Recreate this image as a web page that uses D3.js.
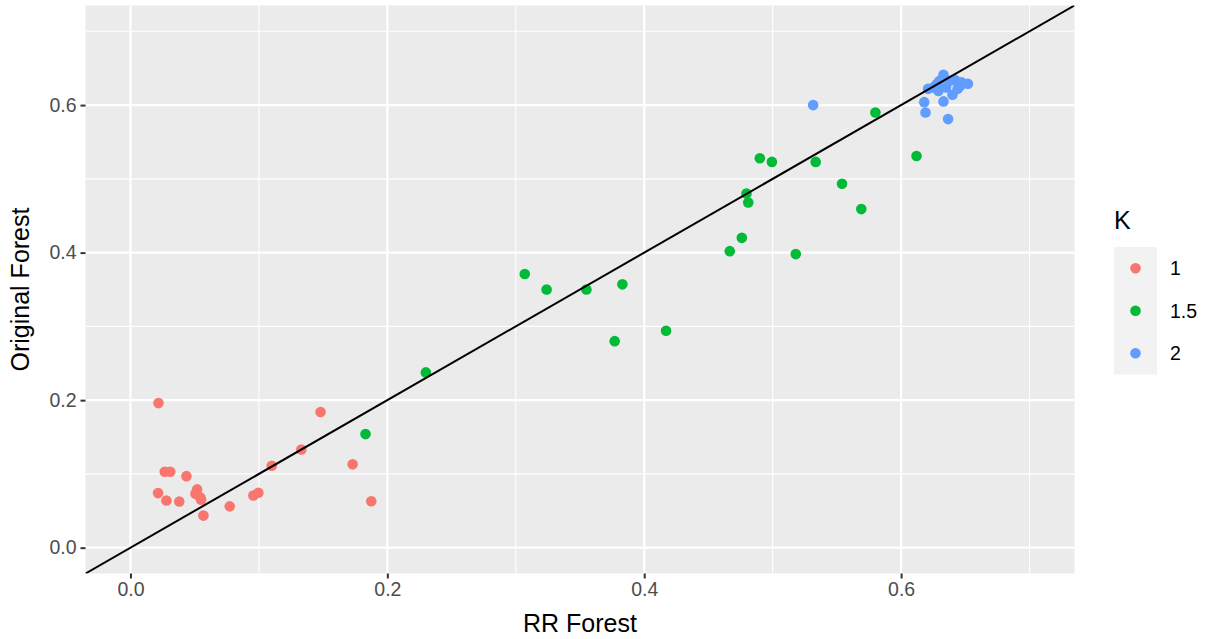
<!DOCTYPE html>
<html><head><meta charset="utf-8">
<script src="https://cdn.jsdelivr.net/npm/d3@7"></script>
<style>body{margin:0;background:#fff}svg{display:block}text{font-family:"Liberation Sans",Arial,Helvetica,sans-serif}</style>
</head><body>
<svg id="chart" width="1211" height="639"></svg>
<script>
// ---- data ----
const kLevels = ["1", "1.5", "2"];
const kColors = ["#F8766D", "#00BA38", "#619CFF"];
const xTicks = [0.0, 0.2, 0.4, 0.6];
const yTicks = [0.0, 0.2, 0.4, 0.6];
const minorTicks = [0.1, 0.3, 0.5, 0.7];
const k1RR = [0.0218,0.148,0.133,0.110,0.173,0.0267,0.031,0.0436,0.0215,0.028,0.038,0.0519,0.0506,0.0545,0.055,0.0568,0.0773,0.0957,0.0996,0.1875];
const k1Orig = [0.196,0.184,0.133,0.111,0.113,0.103,0.103,0.097,0.074,0.064,0.0626,0.079,0.073,0.068,0.065,0.0435,0.056,0.0707,0.0744,0.063];
const k15RR = [0.183,0.230,0.307,0.324,0.355,0.383,0.377,0.417,0.490,0.4994,0.5335,0.554,0.569,0.4796,0.481,0.476,0.4666,0.518,0.580,0.612];
const k15Orig = [0.154,0.2376,0.371,0.350,0.350,0.357,0.280,0.294,0.528,0.523,0.523,0.4934,0.459,0.480,0.468,0.420,0.402,0.398,0.590,0.531];
const k2RR = [0.5315,0.633,0.630,0.621,0.625,0.628,0.629,0.635,0.642,0.647,0.652,0.644,0.640,0.633,0.618,0.619,0.6366,0.638,0.646];
const k2Orig = [0.600,0.641,0.633,0.622,0.624,0.629,0.619,0.624,0.634,0.631,0.629,0.622,0.614,0.605,0.604,0.590,0.581,0.633,0.626];
const xDomain = [-0.035, 0.735];
const yDomain = [-0.035, 0.735];

const series = [
  {k: kLevels[0], xs: k1RR, ys: k1Orig},
  {k: kLevels[1], xs: k15RR, ys: k15Orig},
  {k: kLevels[2], xs: k2RR, ys: k2Orig}
];
const points = series.flatMap(s => s.xs.map((x, i) => ({k: s.k, x, y: s.ys[i]})));

// ---- layout ----
const P = {left: 85.5, right: 1074.5, top: 5.5, bottom: 573.5};
const svg = d3.select("#chart");
const x = d3.scaleLinear().domain(xDomain).range([P.left, P.right]);
const y = d3.scaleLinear().domain(yDomain).range([P.bottom, P.top]);
const color = d3.scaleOrdinal().domain(kLevels).range(kColors);

svg.append("defs").append("clipPath").attr("id", "clip")
  .append("rect").attr("x", P.left).attr("y", P.top)
  .attr("width", P.right - P.left).attr("height", P.bottom - P.top);

svg.append("rect").attr("x", P.left).attr("y", P.top)
  .attr("width", P.right - P.left).attr("height", P.bottom - P.top).attr("fill", "#EBEBEB");

const grid = svg.append("g");
grid.selectAll(".vminor").data(minorTicks).join("line")
  .attr("x1", d => x(d)).attr("x2", d => x(d)).attr("y1", P.top).attr("y2", P.bottom)
  .attr("stroke", "#fff").attr("stroke-width", 1.1);
grid.selectAll(".hminor").data(minorTicks).join("line").attr("class","h")
  .attr("y1", d => y(d)).attr("y2", d => y(d)).attr("x1", P.left).attr("x2", P.right)
  .attr("stroke", "#fff").attr("stroke-width", 1.1);
grid.selectAll(".vmajor").data(xTicks).join("line").attr("class","vm")
  .attr("x1", d => x(d)).attr("x2", d => x(d)).attr("y1", P.top).attr("y2", P.bottom)
  .attr("stroke", "#fff").attr("stroke-width", 2.2);
grid.selectAll(".hmajor").data(yTicks).join("line").attr("class","hm")
  .attr("y1", d => y(d)).attr("y2", d => y(d)).attr("x1", P.left).attr("x2", P.right)
  .attr("stroke", "#fff").attr("stroke-width", 2.2);

// points
svg.append("g").selectAll("circle").data(points).join("circle")
  .attr("cx", d => x(d.x)).attr("cy", d => y(d.y)).attr("r", 5.3)
  .attr("fill", d => color(d.k));

// identity line
svg.append("line").attr("clip-path", "url(#clip)")
  .attr("x1", x(xDomain[0])).attr("y1", y(xDomain[0]))
  .attr("x2", x(xDomain[1])).attr("y2", y(xDomain[1]))
  .attr("stroke", "#000").attr("stroke-width", 2);

// axes
const fmt = d3.format(".1f");
const xAxis = svg.append("g").attr("transform", `translate(0,${P.bottom})`)
  .call(d3.axisBottom(x).tickValues(xTicks).tickFormat(fmt).tickSize(5).tickPadding(4));
const yAxis = svg.append("g").attr("transform", `translate(${P.left},0)`)
  .call(d3.axisLeft(y).tickValues(yTicks).tickFormat(fmt).tickSize(5).tickPadding(4));
[xAxis, yAxis].forEach(a => {
  a.select(".domain").remove();
  a.selectAll(".tick line").attr("stroke", "#333").attr("stroke-width", 2);
  a.selectAll(".tick text").attr("fill", "#4D4D4D").style("font-size", "19.5px")
    .style("font-family", '"Liberation Sans",Arial,sans-serif');
});

// titles
svg.append("text").attr("x", (P.left + P.right) / 2).attr("y", 632)
  .attr("text-anchor", "middle").style("font-size", "25px").attr("fill", "#000").text("RR Forest");
svg.append("text").attr("transform", `translate(29,${(P.top + P.bottom) / 2}) rotate(-90)`)
  .attr("text-anchor", "middle").style("font-size", "25px").attr("fill", "#000").text("Original Forest");

// legend
const L = {x: 1114, y: 247, key: 42.5};
svg.append("text").attr("x", L.x).attr("y", 229).style("font-size", "25px").attr("fill", "#000").text("K");
const lg = svg.append("g");
lg.append("rect").attr("x", L.x).attr("y", L.y).attr("width", 43).attr("height", L.key * kLevels.length).attr("fill", "#F2F2F2");
const items = lg.selectAll("g").data(kLevels).join("g")
  .attr("transform", (d, i) => `translate(${L.x},${L.y + i * L.key})`);
items.append("circle").attr("cx", 21.5).attr("cy", L.key / 2).attr("r", 5.3).attr("fill", d => color(d));
items.append("text").attr("x", 56).attr("y", L.key / 2).attr("dy", "0.36em")
  .style("font-size", "19.5px").attr("fill", "#000").text(d => d);
</script>
</body></html>
